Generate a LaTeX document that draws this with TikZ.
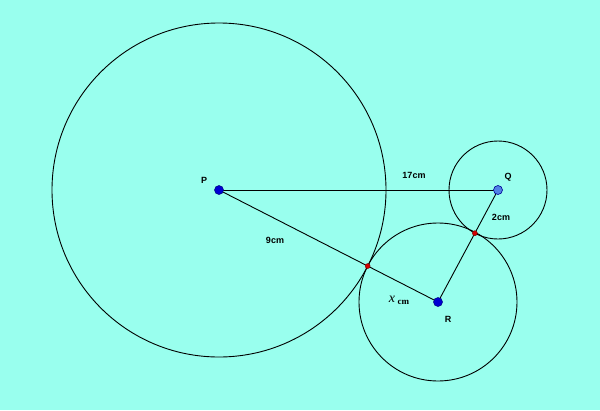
\documentclass[tikz,border=0pt]{standalone}
\usepackage{fontspec}
\setmainfont{Liberation Sans}
\newfontfamily\serifx{Liberation Serif}
\usetikzlibrary{calc}
\definecolor{bg}{RGB}{153,255,238}
\definecolor{darkpt}{RGB}{0,0,210}
\definecolor{lightpt}{RGB}{80,130,230}
\definecolor{redpt}{RGB}{210,0,0}
\begin{document}
\begin{tikzpicture}[x=1pt,y=-1pt,
  lbl/.style={font=\fontsize{9}{10}\selectfont\bfseries, inner sep=0pt},
  ring/.style={draw=black, line width=0.9pt},
  seg/.style={draw=black, line width=0.9pt},
  bigdot/.style={circle, fill=darkpt, draw=darkpt!60!black, line width=0.5pt, minimum size=9pt, inner sep=0pt},
  qdot/.style={circle, fill=lightpt, draw=darkpt!70!black, line width=0.6pt, minimum size=9pt, inner sep=0pt},
  tdot/.style={circle, fill=redpt, draw=redpt!60!black, line width=0.4pt, minimum size=5pt, inner sep=0pt}]
\fill[bg] (0,0) rectangle (600,410);
\useasboundingbox (0,0) rectangle (600,410);
\coordinate (P) at (219,190);
\coordinate (Q) at (498,190);
\coordinate (R) at (438,302);
\draw[ring] (P) circle[radius=167];
\draw[ring] (Q) circle[radius=49];
\draw[ring] (R) circle[radius=79];
\draw[seg] (P) -- (Q);
\draw[seg] (P) -- (R);
\draw[seg] (Q) -- (R);
\node[bigdot] (Pd) at (P) {};
\node[qdot] (Qd) at (Q) {};
\node[bigdot] (Rd) at (R) {};
\node[tdot] (T1) at ($(P)!167pt!(R)$) {};
\node[tdot] (T2) at ($(Q)!49pt!(R)$) {};
\node[lbl] (Pl) at (204,180) {P};
\node[lbl] (Ql) at (508,177) {Q};
\node[lbl] (Rl) at (448,319) {R};
\node[lbl] (l17) at (414,175) {17cm};
\node[lbl] (l2) at (501,217) {2cm};
\node[lbl] (l9) at (275,240) {9cm};
\node[inner sep=0pt] (lx) at (399,300) {\serifx\fontsize{14}{15}\selectfont\itshape x\,\raisebox{-2pt}{\upshape\bfseries\fontsize{9}{10}\selectfont cm}};
\end{tikzpicture}
\end{document}
